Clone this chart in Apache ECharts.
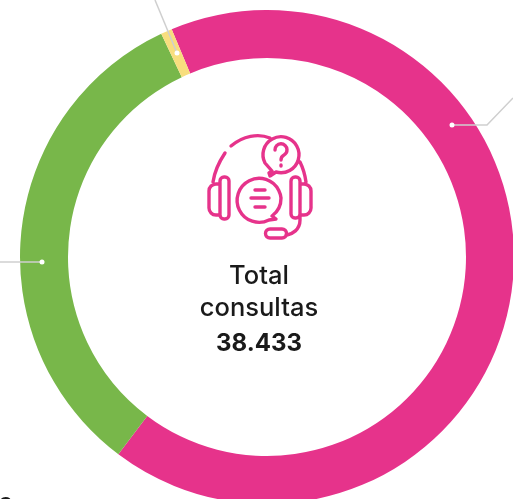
<!DOCTYPE html>
<html>
<head>
<meta charset="utf-8">
<style>
  html, body { margin: 0; padding: 0; background: #fff; overflow: hidden; }
  #chart { width: 513px; height: 499px; }
</style>
<script src="https://cdn.jsdelivr.net/npm/echarts@6/dist/echarts.min.js"></script>
</head>
<body>
<div id="chart"></div>
<script>
const sliceValues = [25590, 12560, 283];
const sliceColors = ['#E6338B', '#78B74A', '#F8DE7E'];
const totalLabel = ['Total', 'consultas'];
const totalValue = '38.433';

const pink = '#E6338B';
const lineGrey = '#CFCFCF';
const font = 'Inter, "Noto Sans", sans-serif';

// headset icon, page pixels
const iconPaths = [
  // ear cups
  'M220 184 h-4 a7 7 0 0 0 -7 7 v17 a7 7 0 0 0 7 7 h4 Z',
  'M220 181 a4 4 0 0 1 4 -4 h1 a4 4 0 0 1 4 4 v34 a4 4 0 0 1 -4 4 h-1 a4 4 0 0 1 -4 -4 Z',
  'M300 181 a4 4 0 0 0 -4 -4 h-1 a4 4 0 0 0 -4 4 v33 a4 4 0 0 0 4 4 h1 a4 4 0 0 0 4 -4 Z',
  'M300 184 h4 a7 7 0 0 1 7 7 v17 a7 7 0 0 1 -7 7 h-4 Z',
  // headband
  'M213 182 C215 168 221 159 225 153',
  'M231 146 C243 136 258 133 270 138',
  'M300 162 C303 168 305 175 306 182',
  // question bubble
  'M272 171 L269 173 L270 176 L276 172 A18 18 0 1 0 265 163 L272 171',
  'M275 150 a6 6 0 1 1 9 5 c-2 1 -3 3 -3 5',
  'M281 165 v1',
  // chat bubble
  'M272 216 L276 219 L269 220 A22 22 0 1 1 281 198 A22 22 0 0 1 272 216',
  'M255 190 h10',
  'M251 198 h18',
  'M255 207 h10',
  // mic boom and capsule
  'M300 207 v13 c0 10 -8 14 -13 15 h-1',
  'M270 229 h12 a4.5 4.5 0 0 1 0 9 h-12 a4.5 4.5 0 0 1 0 -9 Z'
];

// graphic has no generic path type, so the icon goes in as a registered shape
echarts.graphic.registerShape('headset', echarts.graphic.extendPath(iconPaths.join(' ')));

const centerText = (text, y, size, weight) => ({
  type: 'text',
  x: 259,
  y: y,
  z: 10,
  style: {
    text: text,
    fontFamily: font,
    fontSize: size,
    fontWeight: weight,
    fill: '#1A1A1A',
    align: 'center',
    verticalAlign: 'middle'
  }
});

const leader = (points) => ({
  type: 'polyline',
  z: 10,
  shape: { points: points },
  style: { fill: null, stroke: lineGrey, lineWidth: 1.5 }
});

const dot = (x, y) => ({
  type: 'circle',
  z: 11,
  shape: { cx: x, cy: y, r: 2.5 },
  style: { fill: '#fff' }
});

const chart = echarts.init(document.getElementById('chart'));

chart.setOption({
  animation: false,
  backgroundColor: '#fff',
  series: [
    {
      type: 'pie',
      center: [267, 257],
      radius: [199, 247],
      startAngle: 112.7,
      clockwise: true,
      silent: true,
      label: { show: false },
      labelLine: { show: false },
      data: sliceValues.map((v, i) => ({ value: v, itemStyle: { color: sliceColors[i] } }))
    }
  ],
  graphic: [
    leader([[452, 125], [487, 125], [513, 98]]),
    leader([[42, 262], [0, 262]]),
    leader([[177, 53], [155, 0]]),
    dot(452, 125),
    dot(42, 262),
    dot(177, 53),
    {
      type: 'headset',
      z: 10,
      style: { fill: null, stroke: pink, lineWidth: 3.4, lineCap: 'round', lineJoin: 'round' }
    },
    centerText(totalLabel[0], 276, 25.5, 500),
    centerText(totalLabel[1], 308, 25.5, 500),
    centerText(totalValue, 344, 24, 700),
    { type: 'text', x: -2, y: 496, z: 10, style: { text: 'C', fontFamily: font, fontSize: 20, fontWeight: 600, fill: '#1A1A1A' } }
  ]
});
</script>
</body>
</html>
